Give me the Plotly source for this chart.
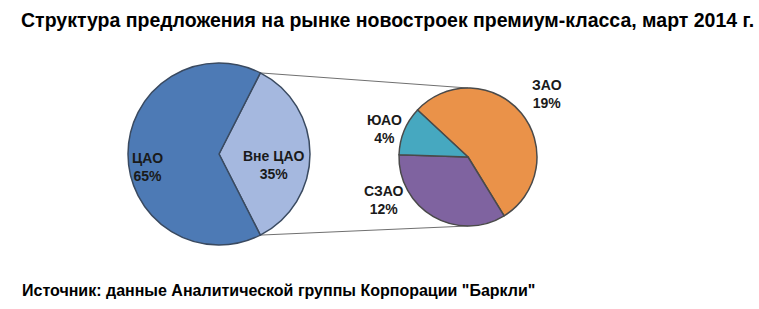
import math
import plotly.graph_objects as go

# ---- data ----
main_labels = ["Вне ЦАО", "ЦАО"]
main_values = [35, 65]
sub_labels = ["ЗАО", "СЗАО", "ЮАО"]
sub_values = [19, 12, 4]
title_text = "Структура предложения на рынке новостроек премиум-класса, март 2014 г."
source_text = 'Источник: данные Аналитической группы Корпорации "Баркли"'

main_colors = ["#a5b8df", "#4d7ab5"]
sub_colors = ["#ea9249", "#7f63a0", "#46a8c0"]

W, H = 759, 309
left_dom = dict(x=[128 / W, 310 / W], y=[1 - 245 / H, 1 - 63 / H])
right_dom = dict(x=[399 / W, 537 / W], y=[1 - 226 / H, 1 - 88 / H])
main_rot = 27
sub_rot = -47

fig = go.Figure()
fig.add_trace(go.Pie(
    labels=main_labels, values=main_values, sort=False, direction="clockwise",
    rotation=main_rot, domain=left_dom, textinfo="none", hoverinfo="label+percent",
    marker=dict(colors=main_colors, line=dict(color="#3a4a60", width=1.5)),
    showlegend=False))
fig.add_trace(go.Pie(
    labels=sub_labels, values=sub_values, sort=False, direction="clockwise",
    rotation=sub_rot, domain=right_dom, textinfo="none", hoverinfo="label+value",
    marker=dict(colors=sub_colors, line=dict(color="#4a4a4a", width=1.5)),
    showlegend=False))

# connector lines derived from the split slice geometry
def pie_geom(dom):
    x0, x1 = dom["x"][0] * W, dom["x"][1] * W
    y0, y1 = (1 - dom["y"][1]) * H, (1 - dom["y"][0]) * H
    r = min(x1 - x0, y1 - y0) / 2
    return (x0 + x1) / 2, (y0 + y1) / 2, r

cx, cy, r = pie_geom(left_dom)
a0 = math.radians(main_rot)
a1 = math.radians(main_rot + 360 * main_values[0] / sum(main_values))
p_top = (cx + r * math.sin(a0), cy - r * math.cos(a0))
p_bot = (cx + r * math.sin(a1), cy - r * math.cos(a1))
scx, scy, sr = pie_geom(right_dom)
q_top = (scx, scy - sr)
q_bot = (scx, scy + sr)
for p, q in [(p_top, q_top), (p_bot, q_bot)]:
    fig.add_shape(type="line", xref="paper", yref="paper",
                  x0=p[0] / W, y0=1 - p[1] / H, x1=q[0] / W, y1=1 - q[1] / H,
                  line=dict(color="#707070", width=1), layer="below")

lab_font = dict(family="Arial, Liberation Sans, sans-serif", size=14, color="#1a1a1a")
def pct(v, tot=100):
    return f"{round(v / tot * 100)}%"

tot_all = sum(main_values)
label_pos = {
    "ЦАО": (147, 167), "Вне ЦАО": (273, 165),
    "ЗАО": (547, 94), "СЗАО": (384, 200), "ЮАО": (384, 129),
}
for labs, vals in [(main_labels, main_values), (sub_labels, sub_values)]:
    for lab, val in zip(labs, vals):
        x, y = label_pos[lab]
        fig.add_annotation(x=x / W, y=1 - y / H, xref="paper", yref="paper",
                           xanchor="center", yanchor="middle",
                           text=f"<b>{lab}<br>{pct(val, tot_all)}</b>", showarrow=False,
                           font=lab_font, align="center")

fig.add_annotation(x=387 / W, y=1 - 20 / H, xref="paper", yref="paper",
                   xanchor="center", yanchor="middle",
                   text=f"<b>{title_text}</b>", showarrow=False,
                   font=dict(family="Arial, Liberation Sans, sans-serif", size=19.5, color="black"))
fig.add_annotation(x=20 / W, y=1 - 290 / H, xref="paper", yref="paper",
                   xanchor="left", yanchor="middle",
                   text=f"<b>{source_text}</b>", showarrow=False,
                   font=dict(family="Arial, Liberation Sans, sans-serif", size=16, color="black"))

fig.update_layout(width=W, height=H, margin=dict(l=0, r=0, t=0, b=0),
                  paper_bgcolor="white", plot_bgcolor="white")
fig.write_html("out.html")
